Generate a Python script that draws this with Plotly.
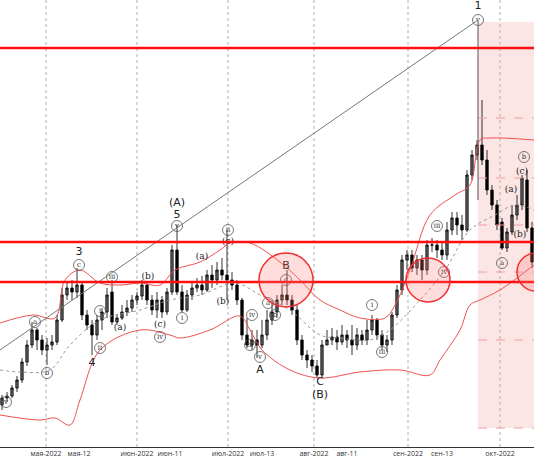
import plotly.graph_objects as go

# candle values on a screen-like price scale (bigger number = lower price)
opens = [405, 398, 396, 388, 380, 362, 345, 330, 340, 350, 345, 342, 320, 295, 288, 292, 285, 315, 325, 335,
         320, 312, 292, 322, 318, 312, 308, 300, 296, 285, 300, 310, 300, 312, 292, 250, 292, 310, 295, 288,
         285, 290, 275, 280, 270, 275, 280, 285, 300, 335, 345, 340, 345, 335, 320, 312, 300, 295, 300, 310,
         340, 355, 360, 366, 375, 345, 340, 337, 342, 335, 340, 345, 335, 340, 330, 320, 335, 345, 340, 315,
         290, 260, 255, 268, 260, 270, 245, 245, 250, 255, 230, 218, 225, 230, 175, 155, 145, 160, 190, 205,
         222, 248, 232, 215, 205, 180, 228]
closes = [398, 396, 388, 380, 362, 345, 330, 340, 350, 345, 342, 320, 295, 288, 292, 285, 315, 325, 335, 320,
          312, 295, 322, 318, 312, 308, 300, 296, 285, 300, 310, 300, 312, 292, 250, 292, 310, 295, 288, 285,
          290, 275, 280, 270, 275, 280, 285, 300, 335, 345, 340, 345, 335, 320, 312, 300, 295, 300, 310, 340,
          355, 360, 366, 375, 345, 340, 337, 342, 335, 340, 345, 335, 340, 330, 320, 335, 345, 340, 315, 290,
          260, 255, 268, 260, 270, 245, 245, 250, 255, 230, 218, 225, 230, 175, 155, 145, 160, 190, 205, 225,
          248, 232, 215, 205, 178, 228, 262]
highs = [395, 392, 385, 376, 358, 340, 322, 328, 335, 338, 335, 315, 288, 282, 280, 268, 282, 310, 320, 315,
         308, 288, 280, 314, 305, 300, 295, 292, 280, 282, 295, 292, 296, 288, 245, 225, 285, 290, 282, 278,
         276, 270, 265, 262, 258, 230, 272, 280, 298, 318, 330, 330, 320, 310, 300, 295, 285, 270, 295, 305,
         335, 350, 355, 360, 340, 330, 328, 330, 325, 330, 325, 328, 330, 320, 315, 318, 330, 335, 312, 285,
         255, 250, 250, 255, 255, 240, 238, 240, 242, 222, 212, 212, 215, 170, 150, 140, 100, 150, 185, 200,
         218, 228, 205, 195, 175, 170, 222]
lows = [410, 402, 398, 392, 383, 366, 348, 350, 355, 365, 350, 345, 322, 300, 300, 298, 320, 330, 355, 340,
        330, 318, 325, 325, 320, 316, 312, 305, 300, 305, 315, 318, 318, 315, 295, 295, 312, 312, 300, 292,
        295, 292, 288, 285, 280, 300, 290, 305, 340, 348, 350, 358, 348, 340, 325, 318, 305, 305, 315, 345,
        360, 368, 372, 378, 378, 345, 345, 350, 345, 348, 355, 350, 345, 345, 335, 340, 350, 352, 345, 318,
        295, 270, 272, 275, 280, 275, 252, 258, 260, 260, 235, 235, 240, 232, 180, 160, 165, 195, 210, 230,
        250, 252, 235, 220, 210, 232, 268]

upper_x = [0, 33, 55, 65, 80, 100, 120, 140, 160, 175, 200, 220, 230, 250, 280, 300, 320, 340, 360, 385, 395,
           410, 430, 455, 470, 480, 490, 534]
upper_y = [323, 315, 318, 280, 270, 283, 285, 283, 285, 270, 262, 250, 243, 243, 262, 280, 300, 310, 318, 318,
           305, 270, 215, 195, 185, 140, 138, 140]
lower_x = [0, 40, 55, 70, 80, 100, 140, 170, 180, 210, 240, 250, 262, 290, 320, 360, 400, 430, 440, 460, 470,
           480, 500, 534]
lower_y = [415, 420, 418, 425, 400, 350, 330, 335, 338, 330, 316, 330, 350, 370, 378, 372, 370, 375, 360, 330,
           305, 300, 290, 265]
ma_x = [0, 20, 50, 70, 100, 140, 170, 200, 235, 260, 290, 320, 340, 370, 390, 420, 445, 470, 495, 515, 534]
ma_y = [370, 372, 370, 345, 320, 310, 300, 295, 283, 295, 310, 335, 338, 340, 330, 300, 270, 230, 215, 205, 210]

levels = [48, 242, 282]
zone_levels = [118, 178, 225, 272, 340, 428]

tick_x = [6, 46, 79, 137, 170, 228, 262, 314, 347, 408, 442, 500, 528]
tick_text = ["апр-13", "мая-2022", "мая-12", "июн-2022", "июн-11", "июл-2022", "июл-13", "авг-2022",
             "авг-11", "сен-2022", "сен-13", "окт-2022", "окт-13"]
month_x = [46, 137, 228, 314, 408, 500]

circ_x = [177, 79, 35, 47, 112, 100, 100, 160, 182, 228, 252, 250, 260, 268, 275, 286, 372, 382, 437, 444, 502,
          524, 6, 478]
circ_y = [226, 265, 322, 373, 277, 311, 348, 337, 318, 230, 315, 345, 357, 303, 315, 280, 305, 352, 226, 272,
          263, 157, 402, 20]
circ_t = ["v", "c", "a", "b", "iii", "i", "ii", "iv", "i", "ii", "iv", "iii", "v", "a", "b", "c", "i", "iii",
          "iii", "iv", "a", "b", "v", "v"]
paren_x = [120, 148, 160, 202, 228, 223, 511, 522, 520]
paren_y = [328, 277, 325, 257, 242, 302, 190, 172, 235]
paren_t = ["(a)", "(b)", "(c)", "(a)", "(c)", "(b)", "(a)", "(c)", "(b)"]
wave_x = [177, 177, 79, 92, 260, 286, 320, 320, 478]
wave_y = [203, 215, 252, 363, 370, 266, 382, 395, 6]
wave_t = ["(A)", "5", "3", "4", "A", "B", "C", "(B)", "1"]

bar_x = [2 + 5 * k for k in range(len(opens))]

fig = go.Figure()
fig.add_trace(go.Candlestick(x=bar_x, open=opens, high=highs, low=lows, close=closes,
                             increasing=dict(line=dict(color="#000", width=0.8), fillcolor="#000"),
                             decreasing=dict(line=dict(color="#000", width=0.8), fillcolor="#fff"),
                             whiskerwidth=0, showlegend=False))
for xs, ys in [(upper_x, upper_y), (lower_x, lower_y)]:
    fig.add_trace(go.Scatter(x=xs, y=ys, mode="lines", line=dict(color="#f05050", width=1),
                             line_shape="spline", showlegend=False))
fig.add_trace(go.Scatter(x=ma_x, y=ma_y, mode="lines", line=dict(color="#999", width=1, dash="dot"),
                         line_shape="spline", showlegend=False))
fig.add_trace(go.Scatter(x=circ_x, y=circ_y, mode="markers+text", text=circ_t,
                         marker=dict(symbol="circle-open", size=11, color="#555", line=dict(width=0.8)),
                         textfont=dict(size=7, color="#333", family="DejaVu Serif"), showlegend=False,
                         cliponaxis=False))
fig.add_trace(go.Scatter(x=paren_x, y=paren_y, mode="text", text=paren_t,
                         textfont=dict(size=9, color="#222", family="DejaVu Serif"), showlegend=False))
fig.add_trace(go.Scatter(x=wave_x, y=wave_y, mode="text", text=wave_t,
                         textfont=dict(size=11, color="#222", family="DejaVu Sans"), showlegend=False))

# month grid lines
for mx in month_x:
    fig.add_vline(x=mx, line=dict(color="#999", width=0.8, dash="dot"), layer="below")

# forecast zone
fig.add_shape(type="rect", x0=478, x1=540, y0=22, y1=428, fillcolor="rgba(240,150,150,0.25)",
              line=dict(width=0), layer="below")
for lv in zone_levels:
    fig.add_shape(type="line", x0=478, x1=540, y0=lv, y1=lv, line=dict(color="#f0a0a0", width=1, dash="dash"))
fig.add_shape(type="line", x0=478, x1=478, y0=22, y1=200, line=dict(color="#555", width=1))
fig.add_shape(type="line", x0=0, x1=478, y0=350, y1=20, line=dict(color="#777", width=1))
for lv in levels:
    fig.add_shape(type="line", x0=-2, x1=540, y0=lv, y1=lv, line=dict(color="#ff1010", width=2.5))
for cx, cy, r in [(286, 280, 27), (428, 280, 22), (536, 272, 19)]:
    fig.add_shape(type="circle", x0=cx - r, x1=cx + r, y0=cy - r, y1=cy + r,
                  fillcolor="rgba(255,120,120,0.25)", line=dict(color="#f03030", width=1.5))

fig.update_layout(width=534, height=462, margin=dict(l=0, r=0, t=0, b=15, autoexpand=False),
                  plot_bgcolor="white", paper_bgcolor="white",
                  xaxis=dict(range=[0, 534], rangeslider=dict(visible=False), tickvals=tick_x, ticktext=tick_text,
                             tickfont=dict(size=7, color="#333"), showgrid=False, zeroline=False,
                             showline=True, linecolor="#333", ticks="", automargin=False),
                  yaxis=dict(range=[447, 0], showticklabels=False, showgrid=False, zeroline=False,
                             automargin=False))
fig.write_html("out.html", config={"displayModeBar": False},
               post_script="document.body.style.margin='0';")
